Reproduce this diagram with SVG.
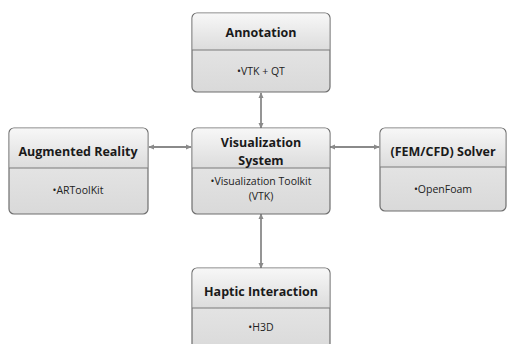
<svg xmlns="http://www.w3.org/2000/svg" width="508" height="344" viewBox="0 0 508 344">
<defs>
<linearGradient id="hg" x1="0" y1="0" x2="0" y2="1">
<stop offset="0" stop-color="#f7f7f7"/>
<stop offset="1" stop-color="#dcdcdc"/>
</linearGradient>
<linearGradient id="bg" x1="0" y1="0" x2="0" y2="1">
<stop offset="0" stop-color="#ececec"/>
<stop offset="1" stop-color="#d9d9d9"/>
</linearGradient>
<marker id="ah" viewBox="0 0 8 8" refX="7" refY="4" markerWidth="6" markerHeight="6" orient="auto-start-reverse" markerUnits="userSpaceOnUse">
<path d="M0,0.5 L8,4 L0,7.5 Z" fill="#8a8a8a"/>
</marker>
</defs>
<style>
.box{fill:url(#bg);stroke:#6e6e6e;stroke-width:1.2}
.hdr{fill:url(#hg)}
.div{stroke:#7a7a7a;stroke-width:1.2}
.t{font-family:"Open Sans","Liberation Sans",sans-serif;font-weight:bold;font-size:12.5px;fill:#1a1a1a;text-anchor:middle}
.b{font-family:"Open Sans","Liberation Sans",sans-serif;font-size:10.5px;fill:#222;text-anchor:middle}
.c{stroke:#8a8a8a;stroke-width:1.8;fill:none;marker-start:url(#ah);marker-end:url(#ah)}
</style>
<rect width="508" height="344" fill="#ffffff"/>
<g id="connectors">
<line class="c" x1="261" y1="93" x2="261" y2="128"/>
<line class="c" x1="149" y1="147" x2="191" y2="147"/>
<line class="c" x1="330" y1="147" x2="379" y2="147"/>
<line class="c" x1="261" y1="214" x2="261" y2="268"/>
</g>
<g id="annotation">
<rect class="box" x="192" y="13" width="138" height="79" rx="5"/>
<path class="hdr" d="M197.6,13.6 H324.4 A4.4,4.4 0 0 1 329.4,18 V50 H192.6 V18 A4.4,4.4 0 0 1 197.6,13.6 Z"/>
<line class="div" x1="192" y1="50" x2="330" y2="50"/>
<text class="t" x="261" y="37">Annotation</text>
<text class="b" x="261" y="75">•VTK + QT</text>
</g>
<g id="augmented-reality">
<rect class="box" x="9" y="128" width="139" height="86" rx="5"/>
<path class="hdr" d="M14.6,128.6 H142.4 A4.4,4.4 0 0 1 147.4,133 V168 H9.6 V133 A4.4,4.4 0 0 1 14.6,128.6 Z"/>
<line class="div" x1="9" y1="168" x2="148" y2="168"/>
<text class="t" x="78" y="156">Augmented Reality</text>
<text class="b" x="78" y="194">•ARToolKit</text>
</g>
<g id="visualization-system">
<rect class="box" x="192" y="128" width="138" height="86" rx="5"/>
<path class="hdr" d="M197.6,128.6 H324.4 A4.4,4.4 0 0 1 329.4,133 V168 H192.6 V133 A4.4,4.4 0 0 1 197.6,128.6 Z"/>
<line class="div" x1="192" y1="168" x2="330" y2="168"/>
<text class="t" x="261" y="147">Visualization</text>
<text class="t" x="261" y="165">System</text>
<text class="b" x="261" y="185">•Visualization Toolkit</text>
<text class="b" x="261" y="200">(VTK)</text>
</g>
<g id="solver">
<rect class="box" x="380" y="128" width="126" height="83" rx="5"/>
<path class="hdr" d="M385.6,128.6 H500.4 A4.4,4.4 0 0 1 505.4,133 V167 H380.6 V133 A4.4,4.4 0 0 1 385.6,128.6 Z"/>
<line class="div" x1="380" y1="167" x2="506" y2="167"/>
<text class="t" x="443" y="156">(FEM/CFD) Solver</text>
<text class="b" x="443" y="193">•OpenFoam</text>
</g>
<g id="haptic-interaction">
<rect class="box" x="192" y="268" width="138" height="86" rx="5"/>
<path class="hdr" d="M197.6,268.6 H324.4 A4.4,4.4 0 0 1 329.4,273 V308 H192.6 V273 A4.4,4.4 0 0 1 197.6,268.6 Z"/>
<line class="div" x1="192" y1="308" x2="330" y2="308"/>
<text class="t" x="261" y="296">Haptic Interaction</text>
<text class="b" x="261" y="331">•H3D</text>
</g>
</svg>
